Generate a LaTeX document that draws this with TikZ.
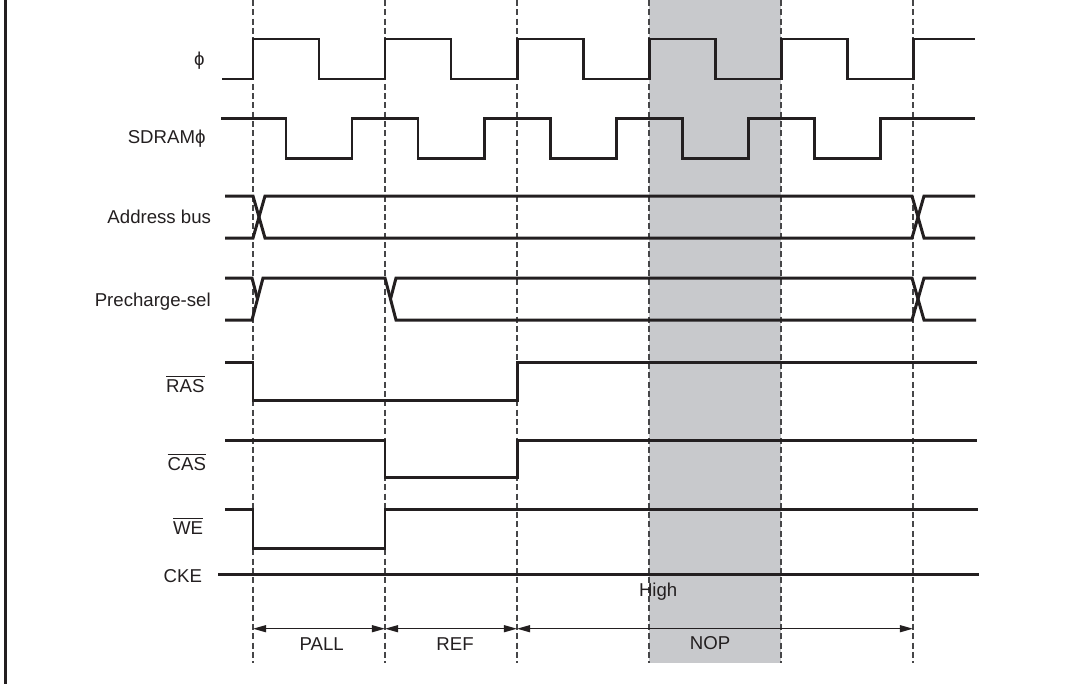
\documentclass[tikz,border=0pt]{standalone}
\usepackage{amsmath}
\usepackage{fontspec}
\setmainfont{Liberation Sans}
\usetikzlibrary{arrows.meta}
\definecolor{sigline}{RGB}{35,31,32}
\definecolor{nopshade}{RGB}{200,201,204}
\definecolor{cycline}{RGB}{70,70,72}

\begin{document}
\begin{tikzpicture}[x=0.02cm,y=-0.02cm,>={Triangle[length=7.5pt,width=4pt]},every node/.style={font=\fontsize{10.6}{12.7}\selectfont,text=sigline,inner sep=0pt},line width=1.7pt,sigline]
\useasboundingbox (0,0) rectangle (1068,684);
\fill[nopshade] (649,0) rectangle (781,663);
\draw[line width=1.4pt] (5.5,0)--(5.5,684);
\draw[cycline,line width=.75pt,dash pattern=on 3.4pt off 1.9pt] (253,0)--(253,663);
\draw[cycline,line width=.75pt,dash pattern=on 3.4pt off 1.9pt] (385,0)--(385,663);
\draw[cycline,line width=.75pt,dash pattern=on 3.4pt off 1.9pt] (517,0)--(517,663);
\draw[cycline,line width=.75pt,dash pattern=on 3.4pt off 1.9pt] (649,0)--(649,663);
\draw[cycline,line width=.75pt,dash pattern=on 3.4pt off 1.9pt] (781,0)--(781,663);
\draw[cycline,line width=.75pt,dash pattern=on 3.4pt off 1.9pt] (913,0)--(913,663);
% phi
\draw (222,79)--(253,79)--(253,39)--(319,39)--(319,79)--(385,79)--(385,39)--(451,39)--(451,79)--(517,79)--(517,39)--(583,39)--(583,79)--(649,79)--(649,39)--(715,39)--(715,79)--(781,79)--(781,39)--(847,39)--(847,79)--(913,79)--(913,39)--(975,39);
% SDRAM phi
\draw (221,118.5)--(286,118.5)--(286,158.5)--(352,158.5)--(352,118.5)--(418,118.5)--(418,158.5)--(484,158.5)--(484,118.5)--(550,118.5)--(550,158.5)--(616,158.5)--(616,118.5)--(682,118.5)--(682,158.5)--(748,158.5)--(748,118.5)--(814,118.5)--(814,158.5)--(880,158.5)--(880,118.5)--(975,118.5);
% address bus
\draw (225,196)--(253,196)--(265,238)--(912,238)--(924,196)--(975,196);
\draw (225,238)--(253,238)--(265,196)--(912,196)--(924,238)--(975,238);
% precharge-sel
\draw (225,320)--(252,320)--(263,278)--(385,278)--(396,320)--(912,320)--(924,278)--(976,278);
\draw (225,278)--(252,278)--(257.5,299);
\draw (390.5,299)--(396,278)--(912,278)--(924,320)--(976,320);
% RAS, CAS, WE, CKE
\draw (225,362)--(253,362)--(253,400)--(517,400)--(517,362)--(977,362);
\draw (225,440.5)--(385,440.5)--(385,477)--(517,477)--(517,440.5)--(977,440.5);
\draw (225,509)--(253,509)--(253,548.5)--(385,548.5)--(385,509)--(978,509);
\draw (218,574)--(979,574);
\node[anchor=base east] (lphi) at (206,65.4) {ϕ};
\node[anchor=base east] (lsdram) at (207,143.3) {SDRAMϕ};
\node[anchor=base east] (laddr) at (212.5,223.5) {Address bus};
\node[anchor=base east] (lpre) at (212.2,306.7) {Precharge-sel};
\node[anchor=base east] (lras) at (206,392.5) {$\overline{\text{RAS}}$};
\node[anchor=base east] (lcas) at (207.5,470) {$\overline{\text{CAS}}$};
\node[anchor=base east] (lwe) at (204.5,534) {$\overline{\text{WE}}$};
\node[anchor=base east] (lcke) at (203.5,582) {CKE};
\node[anchor=base west] (lhigh) at (637.5,596.7) {High};
% command periods
\coordinate (c0) at (253,628.7);
\coordinate (c1) at (385,628.7);
\coordinate (c2) at (517,628.7);
\coordinate (c3) at (913,628.7);
\draw[<->,line width=.7pt] (c0)--(c1);
\draw[<->,line width=.7pt] (c1)--(c2);
\draw[<->,line width=.7pt] (c2)--(c3);
\node[anchor=base] (lpall) at (321.7,650.7) {PALL};
\node[anchor=base] (lref) at (455,650) {REF};
\node[anchor=base] (lnop) at (710,649) {NOP};

\end{tikzpicture}
\end{document}
